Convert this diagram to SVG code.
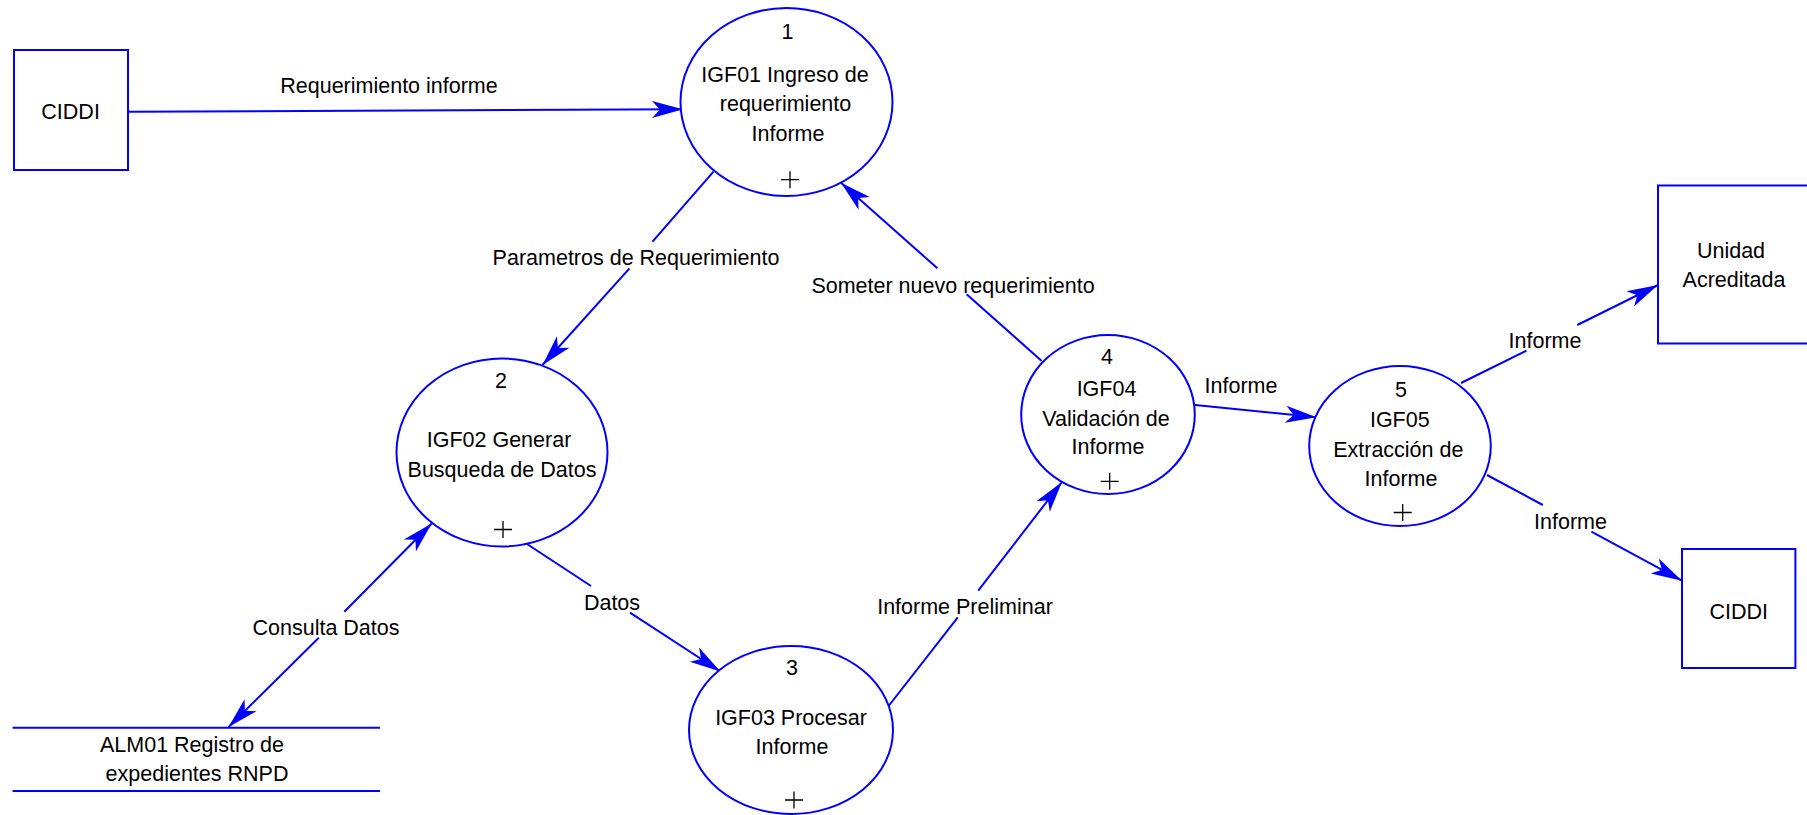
<svg xmlns="http://www.w3.org/2000/svg" width="1807" height="815" viewBox="0 0 1807 815">
<style>
.shape{fill:#fff;stroke:#0000ff;stroke-width:2}
.store{stroke:#0000ff;stroke-width:2;fill:none}
.flow{fill:none;stroke:#0000ff;stroke-width:2}
.plus{stroke:#000;stroke-width:1.3;fill:none}
text{font-family:"Liberation Sans",Arial,sans-serif;font-size:21.5px;fill:#000;text-anchor:middle}
</style>
<defs>
<marker id="ah" markerUnits="userSpaceOnUse" viewBox="-33 -10 34 20" refX="0" refY="0" markerWidth="34" markerHeight="20" orient="auto-start-reverse">
<path d="M0,0 L-31,-8.5 L-23,0 L-31,8.5 Z" fill="#0000ff"/>
</marker>
</defs>
<rect width="1807" height="815" fill="#fff"/>
<g id="connectors">
<path class="flow" d="M128,111.7 L683,109.3" marker-end="url(#ah)"/>
<path class="flow" d="M713.5,171.7 L652.5,241.7 M629.5,268.3 L542.5,365" marker-end="url(#ah)"/>
<path class="flow" d="M1041.7,361 L966.6,294.3 M937.4,268.3 L841,182.7" marker-end="url(#ah)"/>
<path class="flow" d="M228.5,727 L318.8,637.7 M344.3,611.7 L431.7,523.5" marker-start="url(#ah)" marker-end="url(#ah)"/>
<path class="flow" d="M527,544 L591,586 M630,612.7 L720.4,671.5" marker-end="url(#ah)"/>
<path class="flow" d="M888.6,706 L957.8,617.3 M978.2,590.7 L1062,482" marker-end="url(#ah)"/>
<path class="flow" d="M1195,405 L1316.5,417.3" marker-end="url(#ah)"/>
<path class="flow" d="M1461,383 L1526.5,350.7 M1577.3,325 L1658,285" marker-end="url(#ah)"/>
<path class="flow" d="M1487,475 L1542.8,505 M1591.4,531.7 L1682,580.7" marker-end="url(#ah)"/>
<text x="389" y="93">Requerimiento informe</text>
<text x="636" y="265">Parametros de Requerimiento</text>
<text x="953" y="292.5">Someter nuevo requerimiento</text>
<text x="326" y="635">Consulta Datos</text>
<text x="612" y="610">Datos</text>
<text x="965" y="614">Informe Preliminar</text>
<text x="1241" y="393.3">Informe</text>
<text x="1545" y="348.3">Informe</text>
<text x="1570.5" y="529">Informe</text>
</g>
<g id="ciddi1">
<rect class="shape" x="14" y="50" width="114" height="120"/>
<text x="70.6" y="118.5">CIDDI</text>
</g>
<g id="unidad">
<rect class="shape" x="1658" y="185.5" width="170" height="158"/>
<text x="1731" y="258.3">Unidad</text>
<text x="1734" y="287.3">Acreditada</text>
</g>
<g id="ciddi2">
<rect class="shape" x="1682" y="549" width="113.4" height="119"/>
<text x="1738.7" y="619.3">CIDDI</text>
</g>
<g id="alm01">
<line class="store" x1="12.6" y1="727.7" x2="380" y2="727.7"/>
<line class="store" x1="12.6" y1="791" x2="380" y2="791"/>
<text x="192" y="752.3">ALM01 Registro de</text>
<text x="197" y="780.7">expedientes RNPD</text>
</g>
<g id="p1">
<ellipse class="shape" cx="786.5" cy="102" rx="106" ry="94"/>
<text x="787.6" y="39">1</text>
<text x="785" y="82">IGF01 Ingreso de</text>
<text x="785.5" y="111">requerimiento</text>
<text x="788" y="140.7">Informe</text>
<path class="plus" d="M781,179.7 H799 M790,171.2 V188.2"/>
</g>
<g id="p2">
<ellipse class="shape" cx="502" cy="452.5" rx="105.5" ry="94"/>
<text x="501" y="388">2</text>
<text x="499" y="447.3">IGF02 Generar</text>
<text x="502" y="477.3">Busqueda de Datos</text>
<path class="plus" d="M494,529.5 H512 M503,521 V538"/>
</g>
<g id="p3">
<ellipse class="shape" cx="791" cy="730" rx="102" ry="84"/>
<text x="792" y="675">3</text>
<text x="791" y="725">IGF03 Procesar</text>
<text x="792" y="754">Informe</text>
<path class="plus" d="M785,800 H803 M794,791.5 V808.5"/>
</g>
<g id="p4">
<ellipse class="shape" cx="1108" cy="414.5" rx="86.8" ry="79.5"/>
<text x="1107" y="364">4</text>
<text x="1106.5" y="395.7">IGF04</text>
<text x="1106" y="426">Validación de</text>
<text x="1108" y="454.3">Informe</text>
<path class="plus" d="M1100.7,481.3 H1118.7 M1109.7,472.8 V489.8"/>
</g>
<g id="p5">
<ellipse class="shape" cx="1400" cy="446" rx="90.8" ry="80"/>
<text x="1401" y="396.7">5</text>
<text x="1399.8" y="427.3">IGF05</text>
<text x="1398.3" y="457.3">Extracción de</text>
<text x="1401" y="486">Informe</text>
<path class="plus" d="M1393.7,512.5 H1411.7 M1402.7,504 V521"/>
</g>
</svg>
